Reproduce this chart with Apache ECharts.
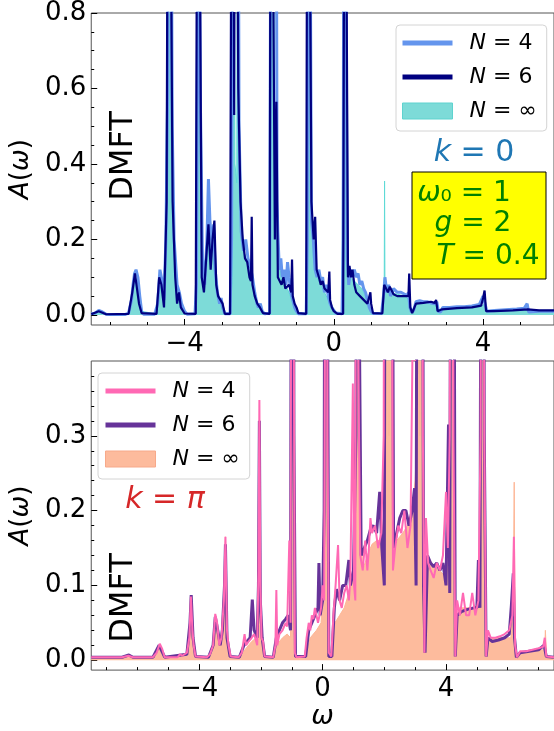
<!DOCTYPE html>
<html><head><meta charset="utf-8">
<script src="https://cdn.jsdelivr.net/npm/echarts@6/dist/echarts.min.js"></script>
<style>html,body{margin:0;padding:0;background:#fff}#c{width:554px;height:731px}</style>
</head><body><div id="c"></div>
<script>
// ---------- DATA (omega, A(omega)) ----------
// Top panel: k = 0
const top_N4 = [[-6.5,0.003],[-6.4,0.005],[-6.3,0.012],[-6.2,0.008],[-6.1,0.002],[-6.0,0.001],[-5.6,0.001],[-5.5,0.005],[-5.42,0.04],[-5.38,0.08],[-5.34,0.11],[-5.3,0.12],[-5.25,0.1],[-5.2,0.05],[-5.15,0.01],[-5.1,0.002],[-4.8,0.002],[-4.72,0.03],[-4.66,0.12],[-4.6,0.09],[-4.55,0.04],[-4.5,0.2],[-4.45,0.6],[-4.41,2.0],[-4.37,1.5],[-4.33,0.5],[-4.28,0.2],[-4.2,0.08],[-4.14,0.06],[-4.08,0.03],[-4.0,0.01],[-3.93,0.002],[-3.72,0.003],[-3.68,0.08],[-3.62,1.5],[-3.58,0.6],[-3.52,0.15],[-3.46,0.08],[-3.4,0.2],[-3.36,0.36],[-3.32,0.25],[-3.26,0.18],[-3.22,0.24],[-3.18,0.12],[-3.12,0.06],[-3.06,0.03],[-3.02,0.045],[-2.98,0.02],[-2.92,0.003],[-2.78,0.003],[-2.74,0.2],[-2.7,1.8],[-2.66,1.2],[-2.62,1.5],[-2.58,2.0],[-2.54,0.5],[-2.48,0.22],[-2.42,0.17],[-2.36,0.2],[-2.3,0.15],[-2.24,0.13],[-2.18,0.1],[-2.12,0.06],[-2.06,0.03],[-2.02,0.02],[-1.97,0.03],[-1.92,0.01],[-1.85,0.003],[-1.72,0.005],[-1.68,1.5],[-1.64,2.0],[-1.56,2.0],[-1.52,0.3],[-1.5,0.22],[-1.46,0.12],[-1.42,0.15],[-1.38,0.1],[-1.33,0.12],[-1.28,0.08],[-1.24,0.14],[-1.2,0.1],[-1.15,0.06],[-1.1,0.04],[-1.05,0.02],[-1.0,0.01],[-0.95,0.003],[-0.74,0.003],[-0.71,0.2],[-0.68,2.0],[-0.64,1.2],[-0.6,0.25],[-0.55,0.2],[-0.5,0.12],[-0.45,0.1],[-0.4,0.12],[-0.35,0.09],[-0.3,0.1],[-0.25,0.06],[-0.2,0.08],[-0.15,0.05],[-0.1,0.03],[-0.05,0.02],[0.0,0.012],[0.05,0.005],[0.1,0.003],[0.22,0.003],[0.25,0.2],[0.28,2.0],[0.32,1.0],[0.36,0.15],[0.4,0.08],[0.45,0.12],[0.5,0.1],[0.55,0.12],[0.6,0.1],[0.65,0.11],[0.7,0.08],[0.75,0.09],[0.8,0.07],[0.85,0.06],[0.9,0.04],[0.95,0.02],[1.0,0.01],[1.05,0.004],[1.28,0.004],[1.33,0.05],[1.37,0.1],[1.42,0.06],[1.47,0.08],[1.52,0.05],[1.6,0.07],[1.7,0.06],[1.8,0.06],[1.9,0.055],[1.96,0.05],[2.0,0.06],[2.04,0.02],[2.08,0.008],[2.14,0.012],[2.2,0.035],[2.3,0.038],[2.4,0.035],[2.5,0.035],[2.6,0.032],[2.7,0.03],[2.76,0.035],[2.8,0.01],[2.86,0.008],[2.92,0.02],[3.1,0.02],[3.3,0.022],[3.5,0.022],[3.7,0.024],[3.9,0.028],[4.0,0.05],[4.05,0.03],[4.1,0.01],[4.3,0.012],[4.6,0.014],[4.9,0.016],[5.1,0.018],[5.18,0.03],[5.22,0.008],[5.5,0.01],[5.9,0.01]];
const top_N6 = [[-6.5,0.002],[-6.3,0.01],[-6.1,0.002],[-5.5,0.003],[-5.4,0.06],[-5.33,0.11],[-5.28,0.11],[-5.22,0.03],[-5.15,0.005],[-4.75,0.003],[-4.68,0.1],[-4.62,0.08],[-4.55,0.02],[-4.48,0.3],[-4.43,2.0],[-4.38,2.0],[-4.32,0.3],[-4.25,0.1],[-4.2,0.03],[-4.15,0.06],[-4.1,0.02],[-4.0,0.004],[-3.7,0.003],[-3.64,2.0],[-3.59,1.0],[-3.54,0.1],[-3.48,0.06],[-3.42,0.15],[-3.36,0.24],[-3.3,0.12],[-3.25,0.2],[-3.2,0.25],[-3.15,0.08],[-3.1,0.05],[-3.04,0.04],[-2.98,0.03],[-2.92,0.003],[-2.78,0.003],[-2.72,2.0],[-2.67,0.53],[-2.64,2.0],[-2.6,2.0],[-2.56,0.6],[-2.5,0.3],[-2.44,0.2],[-2.38,0.15],[-2.32,0.14],[-2.26,0.1],[-2.22,0.09],[-2.2,0.26],[-2.18,0.08],[-2.12,0.05],[-2.05,0.03],[-1.98,0.02],[-1.9,0.005],[-1.72,0.003],[-1.68,2.0],[-1.63,1.0],[-1.58,0.2],[-1.54,0.565],[-1.5,0.1],[-1.45,0.09],[-1.4,0.08],[-1.35,0.1],[-1.3,0.07],[-1.2,0.08],[-1.14,0.06],[-1.12,0.147],[-1.1,0.05],[-1.05,0.03],[-1.0,0.02],[-0.95,0.005],[-0.74,0.003],[-0.7,2.0],[-0.66,2.0],[-0.6,0.3],[-0.56,0.3],[-0.54,0.2],[-0.5,0.26],[-0.46,0.12],[-0.4,0.1],[-0.35,0.08],[-0.3,0.09],[-0.25,0.07],[-0.2,0.065],[-0.15,0.06],[-0.12,0.115],[-0.1,0.04],[-0.05,0.02],[0.0,0.01],[0.05,0.005],[0.1,0.003],[0.25,0.003],[0.3,2.0],[0.35,0.71],[0.38,0.1],[0.42,0.13],[0.46,0.1],[0.5,0.12],[0.55,0.08],[0.6,0.06],[0.7,0.05],[0.8,0.04],[0.9,0.03],[0.98,0.06],[1.0,0.03],[1.05,0.005],[1.3,0.004],[1.35,0.08],[1.4,0.08],[1.45,0.06],[1.5,0.075],[1.6,0.055],[1.7,0.05],[1.8,0.05],[1.9,0.05],[2.0,0.05],[2.02,0.11],[2.05,0.02],[2.1,0.005],[2.2,0.03],[2.4,0.032],[2.6,0.035],[2.7,0.032],[2.74,0.04],[2.78,0.01],[2.9,0.015],[3.3,0.018],[3.7,0.02],[3.95,0.025],[4.0,0.045],[4.04,0.065],[4.08,0.01],[4.3,0.01],[4.8,0.012],[5.2,0.015],[5.5,0.012],[5.9,0.012]];
const top_Ninf = [[-6.5,0.003],[-6.3,0.01],[-6.1,0.002],[-5.5,0.003],[-5.4,0.05],[-5.32,0.1],[-5.25,0.08],[-5.18,0.01],[-4.75,0.003],[-4.66,0.08],[-4.58,0.04],[-4.5,0.2],[-4.42,2.0],[-4.36,0.6],[-4.3,0.25],[-4.2,0.06],[-4.1,0.02],[-4.0,0.004],[-3.7,0.003],[-3.62,2.0],[-3.55,0.2],[-3.45,0.12],[-3.35,0.2],[-3.25,0.17],[-3.15,0.08],[-3.05,0.03],[-2.95,0.005],[-2.78,0.003],[-2.72,0.1],[-2.69,2.0],[-2.65,0.4],[-2.6,0.35],[-2.57,2.0],[-2.53,0.3],[-2.45,0.18],[-2.35,0.15],[-2.25,0.11],[-2.15,0.07],[-2.05,0.03],[-1.95,0.01],[-1.88,0.003],[-1.7,0.003],[-1.65,2.0],[-1.58,0.3],[-1.5,0.15],[-1.4,0.1],[-1.3,0.08],[-1.2,0.06],[-1.1,0.03],[-1.0,0.01],[-0.95,0.003],[-0.72,0.003],[-0.68,2.0],[-0.62,0.3],[-0.55,0.15],[-0.45,0.1],[-0.35,0.08],[-0.25,0.06],[-0.15,0.04],[-0.05,0.02],[0.05,0.005],[0.22,0.003],[0.29,2.0],[0.36,0.15],[0.45,0.1],[0.55,0.09],[0.65,0.08],[0.75,0.07],[0.85,0.05],[0.95,0.02],[1.05,0.005],[1.3,0.005],[1.35,0.06],[1.36,0.355],[1.37,0.07],[1.5,0.06],[1.7,0.055],[1.9,0.05],[2.02,0.04],[2.08,0.008],[2.2,0.03],[2.4,0.032],[2.7,0.03],[2.8,0.01],[3.0,0.015],[3.5,0.018],[3.95,0.022],[4.05,0.03],[4.1,0.01],[4.5,0.012],[5.0,0.014],[5.5,0.01],[5.9,0.01]];
// Bottom panel: k = pi
const bot_N4 = [[-7.5,0.004],[-6.5,0.004],[-6.3,0.006],[-6.25,0.008],[-6.15,0.004],[-5.5,0.004],[-5.38,0.01],[-5.28,0.022],[-5.2,0.015],[-5.12,0.004],[-4.7,0.004],[-4.62,0.008],[-4.55,0.006],[-4.4,0.01],[-4.32,0.03],[-4.27,0.085],[-4.22,0.04],[-4.18,0.02],[-4.12,0.005],[-3.75,0.004],[-3.65,0.008],[-3.55,0.02],[-3.48,0.062],[-3.42,0.05],[-3.35,0.02],[-3.28,0.03],[-3.2,0.08],[-3.15,0.165],[-3.1,0.04],[-3.05,0.02],[-2.98,0.005],[-2.72,0.004],[-2.62,0.01],[-2.53,0.035],[-2.48,0.02],[-2.4,0.025],[-2.3,0.03],[-2.22,0.035],[-2.12,0.02],[-2.08,0.12],[-2.05,0.348],[-2.02,0.1],[-1.98,0.03],[-1.93,0.025],[-1.88,0.005],[-1.6,0.004],[-1.53,0.02],[-1.5,0.094],[-1.47,0.02],[-1.4,0.035],[-1.3,0.04],[-1.2,0.05],[-1.15,0.045],[-1.08,0.16],[-1.04,0.05],[-0.98,1.5],[-0.94,0.5],[-0.9,0.01],[-0.85,0.004],[-0.58,0.005],[-0.52,0.03],[-0.45,0.05],[-0.4,0.04],[-0.35,0.06],[-0.3,0.055],[-0.25,0.07],[-0.2,0.06],[-0.15,0.05],[-0.1,0.06],[-0.05,0.07],[0.0,0.1],[0.05,0.08],[0.08,0.5],[0.12,1.5],[0.16,0.3],[0.2,0.01],[0.28,0.005],[0.35,0.06],[0.42,0.1],[0.5,0.154],[0.55,0.08],[0.62,0.07],[0.7,0.09],[0.78,0.1],[0.85,0.08],[0.9,0.11],[0.98,0.37],[1.02,0.1],[1.06,0.08],[1.1,1.5],[1.14,0.5],[1.18,0.3],[1.22,0.14],[1.3,0.12],[1.38,0.16],[1.45,0.12],[1.5,0.15],[1.55,0.19],[1.6,0.17],[1.7,0.18],[1.8,0.15],[1.9,0.17],[1.98,0.3],[2.02,1.5],[2.08,0.6],[2.14,1.5],[2.2,1.2],[2.28,0.12],[2.35,0.15],[2.45,0.18],[2.55,0.17],[2.65,0.2],[2.75,0.15],[2.85,0.18],[2.95,0.55],[3.0,0.4],[3.05,1.5],[3.12,0.6],[3.18,1.5],[3.25,0.3],[3.3,0.01],[3.35,0.19],[3.42,0.13],[3.5,0.12],[3.6,0.11],[3.7,0.13],[3.8,0.12],[3.9,0.14],[4.0,0.225],[4.06,0.15],[4.12,0.3],[4.18,1.5],[4.24,0.3],[4.3,0.005],[4.36,0.08],[4.45,0.06],[4.55,0.09],[4.65,0.06],[4.75,0.06],[4.85,0.09],[4.95,0.06],[5.05,0.08],[5.12,0.3],[5.18,1.5],[5.24,0.3],[5.3,0.005],[5.36,0.04],[5.45,0.03],[5.6,0.03],[5.75,0.032],[5.9,0.035],[6.05,0.04],[6.15,0.06],[6.2,0.165],[6.24,0.02],[6.3,0.004],[6.4,0.012],[6.6,0.012],[6.8,0.014],[7.0,0.016],[7.15,0.018],[7.2,0.03],[7.25,0.005],[7.5,0.004]];
const bot_N6 = [[-7.5,0.004],[-6.5,0.004],[-6.28,0.007],[-6.15,0.004],[-5.5,0.004],[-5.3,0.02],[-5.12,0.004],[-4.4,0.008],[-4.3,0.05],[-4.26,0.087],[-4.2,0.03],[-4.12,0.005],[-3.7,0.004],[-3.55,0.02],[-3.48,0.058],[-3.4,0.04],[-3.32,0.02],[-3.25,0.04],[-3.18,0.1],[-3.15,0.155],[-3.1,0.03],[-3.0,0.005],[-2.7,0.004],[-2.55,0.02],[-2.45,0.025],[-2.35,0.03],[-2.28,0.081],[-2.22,0.04],[-2.12,0.03],[-2.08,0.1],[-2.05,0.32],[-2.02,0.08],[-1.96,0.03],[-1.88,0.005],[-1.6,0.004],[-1.5,0.03],[-1.4,0.04],[-1.3,0.05],[-1.2,0.055],[-1.12,0.06],[-1.04,0.04],[-0.98,1.5],[-0.93,0.3],[-0.88,0.005],[-0.55,0.005],[-0.45,0.04],[-0.35,0.05],[-0.25,0.06],[-0.15,0.07],[-0.12,0.13],[-0.08,0.06],[0.0,0.08],[0.05,0.2],[0.1,1.5],[0.16,0.5],[0.2,0.005],[0.3,0.005],[0.38,0.07],[0.45,0.095],[0.55,0.08],[0.65,0.1],[0.75,0.1],[0.85,0.134],[0.9,0.1],[1.0,0.12],[1.08,0.3],[1.14,1.5],[1.2,0.4],[1.25,0.14],[1.35,0.15],[1.45,0.16],[1.55,0.175],[1.65,0.18],[1.75,0.17],[1.85,0.225],[1.92,0.15],[2.0,0.1],[2.05,1.5],[2.15,1.5],[2.25,0.8],[2.3,0.15],[2.4,0.17],[2.5,0.19],[2.6,0.2],[2.7,0.2],[2.8,0.18],[2.9,0.2],[2.98,0.23],[3.03,0.1],[3.1,1.5],[3.2,1.5],[3.27,0.1],[3.32,0.01],[3.4,0.14],[3.5,0.13],[3.6,0.125],[3.7,0.13],[3.8,0.12],[3.9,0.13],[4.0,0.1],[4.08,0.315],[4.12,0.09],[4.2,1.5],[4.26,0.6],[4.3,0.005],[4.36,0.06],[4.5,0.065],[4.7,0.068],[4.9,0.07],[5.0,0.07],[5.05,0.134],[5.1,0.07],[5.18,1.5],[5.24,0.3],[5.3,0.005],[5.36,0.03],[5.5,0.025],[5.7,0.027],[5.9,0.03],[6.05,0.035],[6.12,0.074],[6.18,0.116],[6.22,0.03],[6.28,0.004],[6.4,0.01],[6.7,0.012],[7.0,0.014],[7.18,0.02],[7.25,0.005],[7.5,0.004]];
const bot_Ninf = [[-7.5,0.004],[-6.5,0.004],[-6.28,0.006],[-6.15,0.004],[-5.5,0.004],[-5.3,0.02],[-5.12,0.004],[-4.4,0.008],[-4.3,0.04],[-4.26,0.08],[-4.2,0.02],[-4.12,0.005],[-3.7,0.004],[-3.55,0.015],[-3.48,0.05],[-3.4,0.03],[-3.3,0.02],[-3.2,0.08],[-3.15,0.165],[-3.1,0.03],[-3.0,0.005],[-2.7,0.004],[-2.5,0.015],[-2.3,0.025],[-2.15,0.03],[-2.08,0.1],[-2.05,0.3],[-2.0,0.03],[-1.88,0.005],[-1.6,0.004],[-1.5,0.02],[-1.3,0.03],[-1.15,0.035],[-1.04,0.03],[-0.98,1.5],[-0.92,0.1],[-0.88,0.005],[-0.55,0.005],[-0.4,0.03],[-0.2,0.04],[-0.05,0.05],[0.05,0.15],[0.11,1.5],[0.18,0.2],[0.22,0.005],[0.3,0.005],[0.4,0.05],[0.55,0.06],[0.7,0.07],[0.85,0.09],[1.0,0.11],[1.1,0.3],[1.16,1.5],[1.22,0.2],[1.3,0.12],[1.45,0.14],[1.6,0.155],[1.75,0.16],[1.9,0.16],[2.0,0.2],[2.05,0.25],[2.1,1.5],[2.15,0.3],[2.2,1.5],[2.25,0.2],[2.3,0.15],[2.4,0.16],[2.6,0.17],[2.75,0.18],[2.9,0.2],[3.0,0.24],[3.05,0.3],[3.1,1.5],[3.15,0.3],[3.2,1.5],[3.25,0.1],[3.32,0.01],[3.4,0.14],[3.6,0.125],[3.8,0.12],[4.0,0.11],[4.1,0.2],[4.2,1.5],[4.28,0.2],[4.32,0.005],[4.4,0.07],[4.7,0.07],[5.0,0.07],[5.12,0.1],[5.19,1.5],[5.26,0.1],[5.3,0.005],[5.4,0.03],[5.8,0.03],[6.1,0.03],[6.18,0.08],[6.21,0.238],[6.24,0.01],[6.3,0.004],[6.5,0.01],[7.0,0.012],[7.2,0.015],[7.22,0.04],[7.26,0.005],[7.5,0.004]];

// ---------- AXES / TICKS ----------
const topX = {min: -6.5, max: 5.9, major: [-4, 0, 4], minor: [-6, -5, -3, -2, -1, 1, 2, 3, 5]};
const topY = {min: -0.0265, max: 0.8, major: [0, 0.2, 0.4, 0.6, 0.8], minor: [0.05, 0.1, 0.15, 0.25, 0.3, 0.35, 0.45, 0.5, 0.55, 0.65, 0.7, 0.75]};
const botX = {min: -7.5, max: 7.5, major: [-4, 0, 4], minor: [-7, -6, -5, -3, -2, -1, 1, 2, 3, 5, 6, 7]};
const botY = {min: -0.0132, max: 0.4, major: [0, 0.1, 0.2, 0.3], minor: [0.02, 0.04, 0.06, 0.08, 0.12, 0.14, 0.16, 0.18, 0.22, 0.24, 0.26, 0.28, 0.32, 0.34, 0.36, 0.38]};
const legendLabels = {N4: '4', N6: '6', Ninf: '\u221e'};

const FONT = 'DejaVu Sans';
const chart = echarts.init(document.getElementById('c'), null, {renderer: 'canvas'});

function xAxes(g, ax, withName) {
  return [{
    type: 'value', gridIndex: g, min: ax.min, max: ax.max, position: 'bottom',
    axisLine: {show: false, onZero: false},
    splitLine: {show: false},
    axisTick: {show: true, inside: true, length: 6, customValues: ax.major, lineStyle: {color: '#000', width: 1}},
    axisLabel: {show: true, customValues: ax.major, margin: 6, fontFamily: FONT, fontSize: 26, color: '#000',
      formatter: v => String(v).replace('-', '\u2212')},
    name: withName ? '\u03c9' : '', nameLocation: 'middle', nameGap: 32,
    nameTextStyle: {fontFamily: FONT, fontSize: 27, fontStyle: 'italic', color: '#000'}
  }, {
    type: 'value', gridIndex: g, min: ax.min, max: ax.max, position: 'bottom',
    axisLine: {show: false, onZero: false}, splitLine: {show: false}, axisLabel: {show: false},
    axisTick: {show: true, inside: true, length: 3, customValues: ax.minor, lineStyle: {color: '#000', width: 1}}
  }];
}
function yAxes(g, ax) {
  return [{
    type: 'value', gridIndex: g, min: ax.min, max: ax.max, position: 'left',
    axisLine: {show: false, onZero: false}, splitLine: {show: false},
    axisTick: {show: true, inside: true, length: 6, customValues: ax.major, lineStyle: {color: '#000', width: 1}},
    axisLabel: {show: true, customValues: ax.major, margin: 5, fontFamily: FONT, fontSize: 26, color: '#000',
      formatter: v => v.toFixed(1)},
    name: '{i|A}({i|\u03c9})', nameLocation: 'middle', nameGap: 48, nameRotate: 90,
    nameTextStyle: {fontFamily: FONT, fontSize: 26, color: '#000', rich: {i: {fontFamily: FONT, fontSize: 26, fontStyle: 'italic', color: '#000'}}}
  }, {
    type: 'value', gridIndex: g, min: ax.min, max: ax.max, position: 'left',
    axisLine: {show: false, onZero: false}, splitLine: {show: false}, axisLabel: {show: false},
    axisTick: {show: true, inside: true, length: 3, customValues: ax.minor, lineStyle: {color: '#000', width: 1}}
  }];
}

function lineSeries(name, data, xi, yi, color, width, z) {
  return {name, type: 'line', data, xAxisIndex: xi, yAxisIndex: yi, symbol: 'none', showSymbol: false,
    lineStyle: {color, width}, itemStyle: {color}, z, clip: true, animation: false};
}
function fillSeries(name, data, xi, yi, color, edge, z) {
  return {name, type: 'line', data, xAxisIndex: xi, yAxisIndex: yi, symbol: 'none', showSymbol: false,
    lineStyle: {color: edge, width: 1}, itemStyle: {color}, areaStyle: {color, opacity: 1}, z, clip: true, animation: false};
}

const LINE_ICON = 'path://M0,0H50V5H0Z';
const legendCommon = {
  orient: 'vertical', itemWidth: 50, itemHeight: 16, itemGap: 12,
  backgroundColor: 'rgba(255,255,255,0.8)', borderColor: '#d4d4d4', borderWidth: 1, borderRadius: 4,
  textStyle: {fontFamily: FONT, fontSize: 22, color: '#000', lineHeight: 22, padding: [0, 0, 0, 12],
    rich: {i: {fontFamily: FONT, fontSize: 22, fontStyle: 'italic', color: '#000'}}},
  formatter: name => '{i|N} = ' + legendLabels[name.replace(/[ab]$/, '')],
  selectedMode: false
};

const option = {
  animation: false,
  backgroundColor: '#fff',
  grid: [
    {left: 87, top: 13, right: 0, height: 312, show: true, borderColor: '#555', borderWidth: 1, backgroundColor: 'transparent'},
    {left: 87, top: 361, right: 0, height: 312, show: true, borderColor: '#555', borderWidth: 1, backgroundColor: 'transparent'}
  ],
  xAxis: [...xAxes(0, topX, false), ...xAxes(1, botX, true)],
  yAxis: [...yAxes(0, topY), ...yAxes(1, botY)],
  legend: [
    Object.assign({}, legendCommon, {left: 396, top: 25, padding: [7, 10, 9, 6],
      data: [
        {name: 'N4a', icon: LINE_ICON, itemStyle: {color: '#6495ED'}},
        {name: 'N6a', icon: LINE_ICON, itemStyle: {color: '#000080'}},
        {name: 'Ninfa', icon: 'rect', itemStyle: {color: '#7ddbd8', borderColor: '#5ed3cf', borderWidth: 1}}
      ]}),
    Object.assign({}, legendCommon, {left: 98, top: 373, padding: [7, 10, 9, 7],
      data: [
        {name: 'N4b', icon: LINE_ICON, itemStyle: {color: '#ff69b4'}},
        {name: 'N6b', icon: LINE_ICON, itemStyle: {color: '#663399'}},
        {name: 'Ninfb', icon: 'rect', itemStyle: {color: '#fdbb9d', borderColor: '#f7a98a', borderWidth: 1}}
      ]})
  ],
  series: [
    fillSeries('Ninfa', top_Ninf, 0, 0, '#7ddbd8', '#5fdad6', 1),
    lineSeries('N4a', top_N4, 0, 0, '#6495ED', 3, 2),
    lineSeries('N6a', top_N6, 0, 0, '#000080', 2.2, 3),
    fillSeries('Ninfb', bot_Ninf, 2, 2, '#fdbb9d', '#fdb696', 1),
    lineSeries('N6b', bot_N6, 2, 2, '#663399', 3, 2),
    lineSeries('N4b', bot_N4, 2, 2, '#ff69b4', 2, 3)
  ],
  graphic: [
    {type: 'text', x: 124, y: 156, rotation: Math.PI / 2, z: 10,
      style: {text: 'DMFT', fontFamily: FONT, fontSize: 32, fill: '#000', align: 'center', verticalAlign: 'middle'}},
    {type: 'text', x: 124, y: 598, rotation: Math.PI / 2, z: 10,
      style: {text: 'DMFT', fontFamily: FONT, fontSize: 32, fill: '#000', align: 'center', verticalAlign: 'middle'}},
    {type: 'text', x: 474, y: 153, z: 10,
      style: {text: '{i|k} = 0', fontFamily: FONT, fontSize: 30, fill: '#1f77b4', align: 'center', verticalAlign: 'middle',
        rich: {i: {fontFamily: FONT, fontSize: 30, fontStyle: 'italic', fill: '#1f77b4'}}}},
    {type: 'text', x: 165, y: 500, z: 10,
      style: {text: '{i|k} = {i|\u03c0}', fontFamily: FONT, fontSize: 30, fill: '#d62728', align: 'center', verticalAlign: 'middle',
        rich: {i: {fontFamily: FONT, fontSize: 30, fontStyle: 'italic', fill: '#d62728'}}}},
    {type: 'rect', shape: {x: 412, y: 172, width: 134, height: 107}, z: 10,
      style: {fill: '#ffff00', stroke: '#000', lineWidth: 1}},
    {type: 'text', x: 464, y: 194, z: 11,
      style: {text: '{i|\u03c9}\u2080 = 1', fontFamily: FONT, fontSize: 28, fill: '#008000', align: 'center', verticalAlign: 'middle',
        rich: {i: {fontFamily: FONT, fontSize: 28, fontStyle: 'italic', fill: '#008000'}}}},
    {type: 'text', x: 473, y: 224, z: 11,
      style: {text: '{i|g} = 2', fontFamily: FONT, fontSize: 28, fill: '#008000', align: 'center', verticalAlign: 'middle',
        rich: {i: {fontFamily: FONT, fontSize: 28, fontStyle: 'italic', fill: '#008000'}}}},
    {type: 'text', x: 488, y: 257, z: 11,
      style: {text: '{i|T} = 0.4', fontFamily: FONT, fontSize: 28, fill: '#008000', align: 'center', verticalAlign: 'middle',
        rich: {i: {fontFamily: FONT, fontSize: 28, fontStyle: 'italic', fill: '#008000'}}}}
  ]
};
chart.setOption(option);
</script>
</body></html>
